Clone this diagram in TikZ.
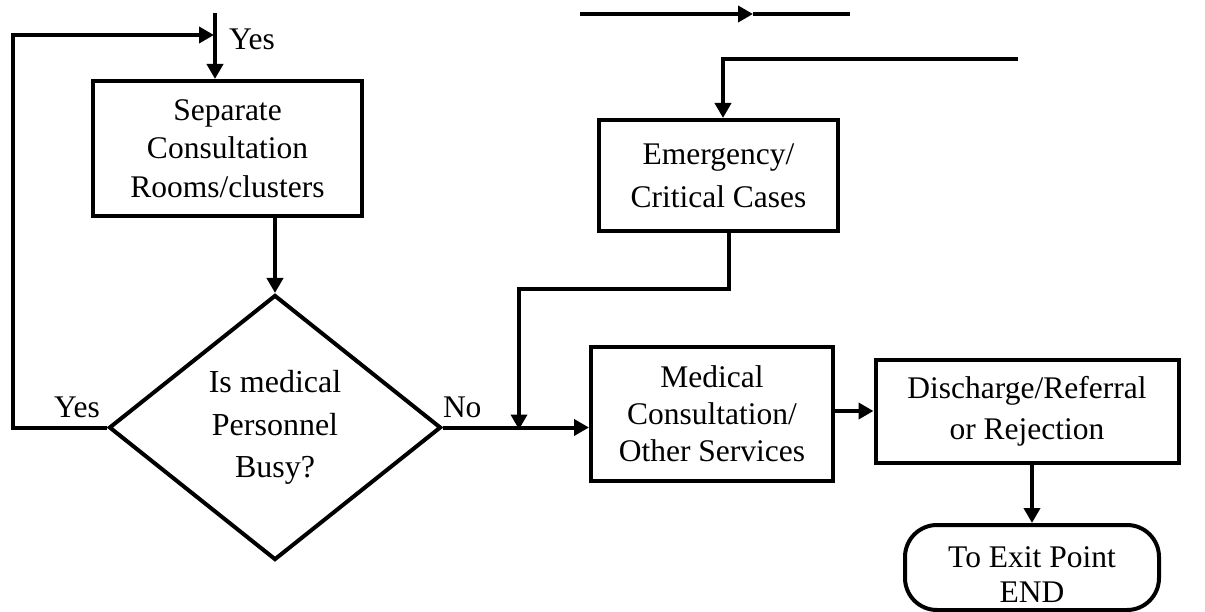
\documentclass[tikz,border=0pt]{standalone}
\usepackage{fontspec}
\setmainfont{Liberation Serif}
\usetikzlibrary{arrows.meta,shapes.geometric}
\begin{document}
\begin{tikzpicture}[x=1pt,y=-1pt,
  line width=4pt,
  txt/.style={font=\fontsize{31.5}{37}\selectfont},
  box/.style={draw, rectangle, align=center, inner sep=0pt, txt},
  arr/.style={-{Triangle[length=15pt,width=16pt]}},
  lbl/.style={txt, inner sep=0pt, anchor=base west}]
\useasboundingbox (0,0) rectangle (1205,612);

% process boxes
\node[box, minimum width=269pt, minimum height=135pt,
  font=\fontsize{31.5}{38.5}\selectfont] (sep) at (227.5,148.5)
  {Separate\\Consultation\\Rooms/clusters};
\node[draw, diamond, aspect=1.25, minimum width=332pt, minimum height=265pt,
  inner sep=0pt, align=center, font=\fontsize{32}{42.5}\selectfont] (dec) at (275,427.5)
  {Is medical\\Personnel\\Busy?};
\node[box, minimum width=239pt, minimum height=111pt,
  font=\fontsize{31.5}{43}\selectfont] (emg) at (718.5,175.5) {Emergency/\\Critical Cases};
\node[box, minimum width=242pt, minimum height=134pt] (med) at (712,414)
  {Medical\\Consultation/\\Other Services};
\node[box, minimum width=303pt, minimum height=103pt,
  font=\fontsize{31.5}{41}\selectfont] (dis) at (1027,411) {Discharge/Referral\\or Rejection};
\node[draw, rectangle, rounded corners=32pt, minimum width=254pt, minimum height=85pt,
  inner sep=0pt, align=center, font=\fontsize{31.5}{35}\selectfont] (exit) at (1032,567.5)
  {\rule{0pt}{36pt}To Exit Point\\END};

% labels
\node[lbl] (yes1) at (227,50) {Yes};
\node[lbl] (yes2) at (52,417) {Yes};
\node[lbl] (no) at (441,417) {No};

% free ends and bends
\coordinate (in) at (215,13);
\coordinate (lc1) at (13,427.5);
\coordinate (lc2) at (13,35);
\coordinate (lc3) at (214,35);
\coordinate (e2) at (519,289);
\coordinate (ein) at (1018,59);
\coordinate (fa) at (580,14);
\coordinate (fm) at (753,14);
\coordinate (fb) at (850,14);

% connectors
\draw[arr] (in) -- (in |- sep.north);
\draw[arr] (dec.west) -- (lc1) -- (lc2) -- (lc3);
\draw[arr] (dec.north |- sep.south) -- (dec.north);
\draw[arr] (dec.east) -- (dec.east -| med.west);
\draw[arr] ([xshift=10.5pt]emg.south) |- (e2) -- ([yshift=-2pt]e2 |- dec.east);
\draw[arr] (ein) -| ([xshift=4.5pt]emg.north);
\draw[arr] (fa) -- (fm);
\draw (fm) -- (fb);
\draw[arr] (med.east |- dis.west) -- (dis.west);
\draw[arr] (exit.north |- dis.south) -- (exit.north);
\end{tikzpicture}
\end{document}
